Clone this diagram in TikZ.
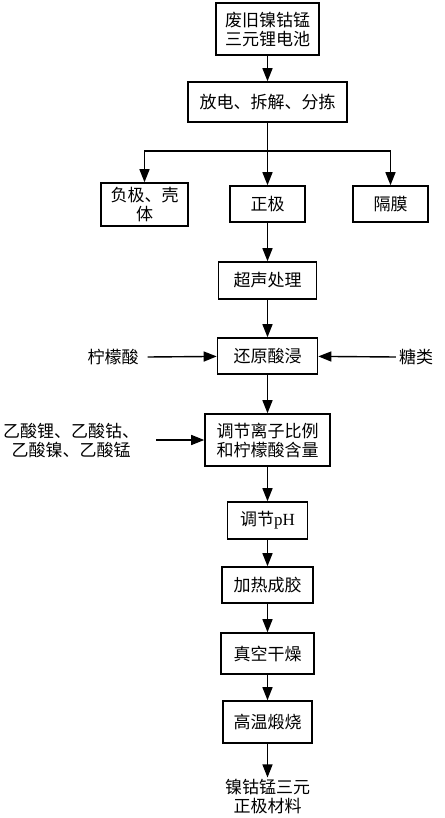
\documentclass[tikz,border=0pt]{standalone}
\usepackage{fontspec}
\setmainfont{Noto Sans CJK SC}
\newfontfamily\latinserif{Liberation Serif}
\usetikzlibrary{arrows.meta}
\begin{document}
\begin{tikzpicture}[x=1pt,y=-1pt,
  every node/.style={font=\fontsize{17pt}{19pt}\selectfont, align=center},
  box/.style={draw, line width=1.6pt, inner sep=0pt},
  lbl/.style={inner sep=1pt},
  arr/.style={line width=1.4pt, -{Triangle[width=10pt,length=13pt]}},
  ln/.style={line width=1.4pt}]
\useasboundingbox (0,0) rectangle (444,818);
\node[box, minimum width=103pt, minimum height=52pt] (b1) at (267.5,29) {废旧镍钴锰\\三元锂电池};
\node[box, minimum width=159pt, minimum height=40pt] (b2) at (267.5,102) {放电、拆解、分拣};
\node[box, minimum width=87pt, minimum height=43pt] (fj) at (144.5,204.5) {负极、壳\\体};
\node[box, minimum width=75pt, minimum height=36pt] (zj) at (267.5,204) {正极};
\node[box, minimum width=75pt, minimum height=36pt] (gm) at (390.5,204) {隔膜};
\node[box, minimum width=98pt, minimum height=37pt] (cs) at (267.5,280.5) {超声处理};
\node[box, minimum width=100pt, minimum height=36pt] (hy) at (267.5,356) {还原酸浸};
\node[lbl] (nm) at (113,357) {柠檬酸};
\node[lbl] (tl) at (416,357) {糖类};
\node[box, minimum width=125pt, minimum height=52pt] (tj) at (267.5,440) {调节离子比例\\和柠檬酸含量};
\node[lbl] (ys) at (71,441) {乙酸锂、乙酸钴、\\乙酸镍、乙酸锰};
\node[box, minimum width=80pt, minimum height=37pt] (ph) at (267.5,520.5) {调节{\latinserif pH}};
\node[box, minimum width=91pt, minimum height=36pt] (jr) at (267.5,585) {加热成胶};
\node[box, minimum width=93pt, minimum height=41pt] (zk) at (267.5,653.5) {真空干燥};
\node[box, minimum width=89pt, minimum height=42pt] (gw) at (267.5,722) {高温煅烧};
\node[inner sep=2pt] (fin) at (267.5,797) {镍钴锰三元\\正极材料};
\coordinate (br) at (267.5,151);
\coordinate (nmr) at ([xshift=8pt]nm.east);
\coordinate (tll) at ([xshift=-2pt]tl.west);
\coordinate (ysr) at ([xshift=16pt]ys.east |- tj.west);
\draw[arr] (b1) -- (b2);
\draw[ln] (b2) -- (br);
\draw[arr] (br) -| (fj.north);
\draw[arr] (br) -- (zj);
\draw[arr] (br) -| (gm.north);
\draw[arr] (zj) -- (cs);
\draw[arr] (cs) -- (hy);
\draw[arr] (nmr) -- (hy);
\draw[arr] (tll) -- (hy);
\draw[arr] (hy) -- (tj);
\draw[arr] (ysr) -- (tj.west);
\draw[arr] (tj) -- (ph);
\draw[arr] (ph) -- (jr);
\draw[arr] (jr) -- (zk);
\draw[arr] (zk) -- (gw);
\draw[arr] (gw) -- (fin);
\end{tikzpicture}
\end{document}
